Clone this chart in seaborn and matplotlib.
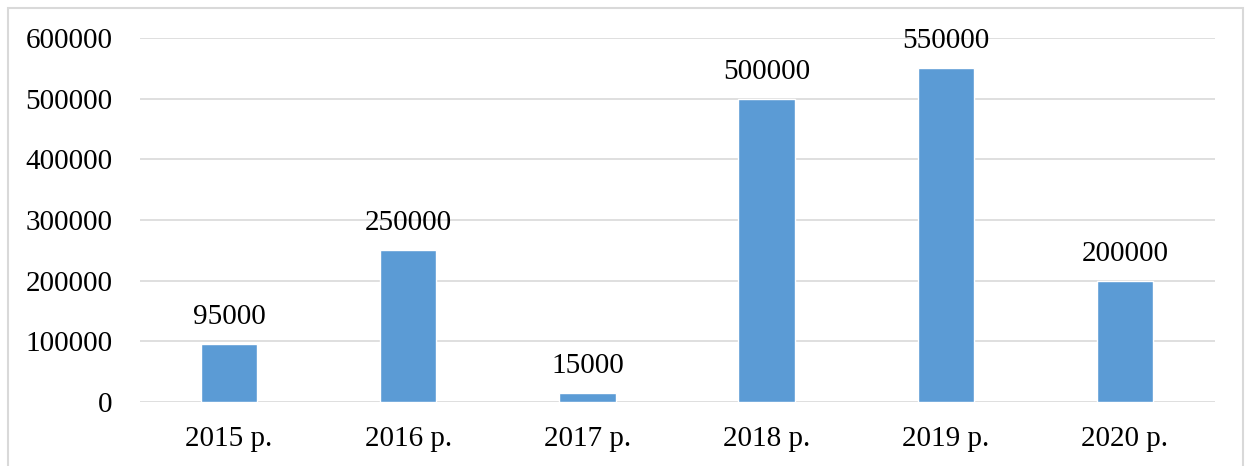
import matplotlib
matplotlib.use("Agg")
import matplotlib.pyplot as plt
import seaborn as sns
import pandas as pd
from matplotlib.patches import Rectangle

years = ["2015 р.", "2016 р.", "2017 р.", "2018 р.", "2019 р.", "2020 р."]
values = [95000, 250000, 15000, 500000, 550000, 200000]
yticks = [0, 100000, 200000, 300000, 400000, 500000, 600000]

sns.set_theme(style="white")
plt.rcParams['font.family'] = ['Liberation Serif', 'DejaVu Serif']

df = pd.DataFrame({"year": years, "value": values})

fig = plt.figure(figsize=(12.48, 4.66), dpi=100)
ax = fig.add_axes([139.5/1248, 1-402/466, (1214.5-139.5)/1248, (402-38)/466])

sns.barplot(data=df, x="year", y="value", color="#5b9bd5", saturation=1,
            width=0.315, ax=ax, zorder=3)

ax.set_ylim(0, 600000)
ax.set_yticks(yticks)
ax.set_yticklabels([str(v) for v in yticks])
ax.set_xlabel("")
ax.set_ylabel("")
for s in ax.spines.values():
    s.set_visible(False)
ax.grid(axis="y", color="#d9d9d9", linewidth=1.2, zorder=0)
ax.set_axisbelow(True)
ax.tick_params(axis="y", length=0, pad=19.5, labelsize=21, colors="black")
ax.tick_params(axis="x", length=0, pad=17, labelsize=21, colors="black")

for i, v in enumerate(values):
    ax.annotate(str(v), (i, v), xytext=(0, 10), textcoords="offset points",
                ha="center", va="bottom", fontsize=21, color="black")

fig.patches.append(Rectangle((8/1248, -0.05), (1243-8)/1248, 1.05 - 8/466,
                             transform=fig.transFigure, fill=False,
                             edgecolor="#d9d9d9", linewidth=1.5))

fig.savefig("out.png", dpi=100)
